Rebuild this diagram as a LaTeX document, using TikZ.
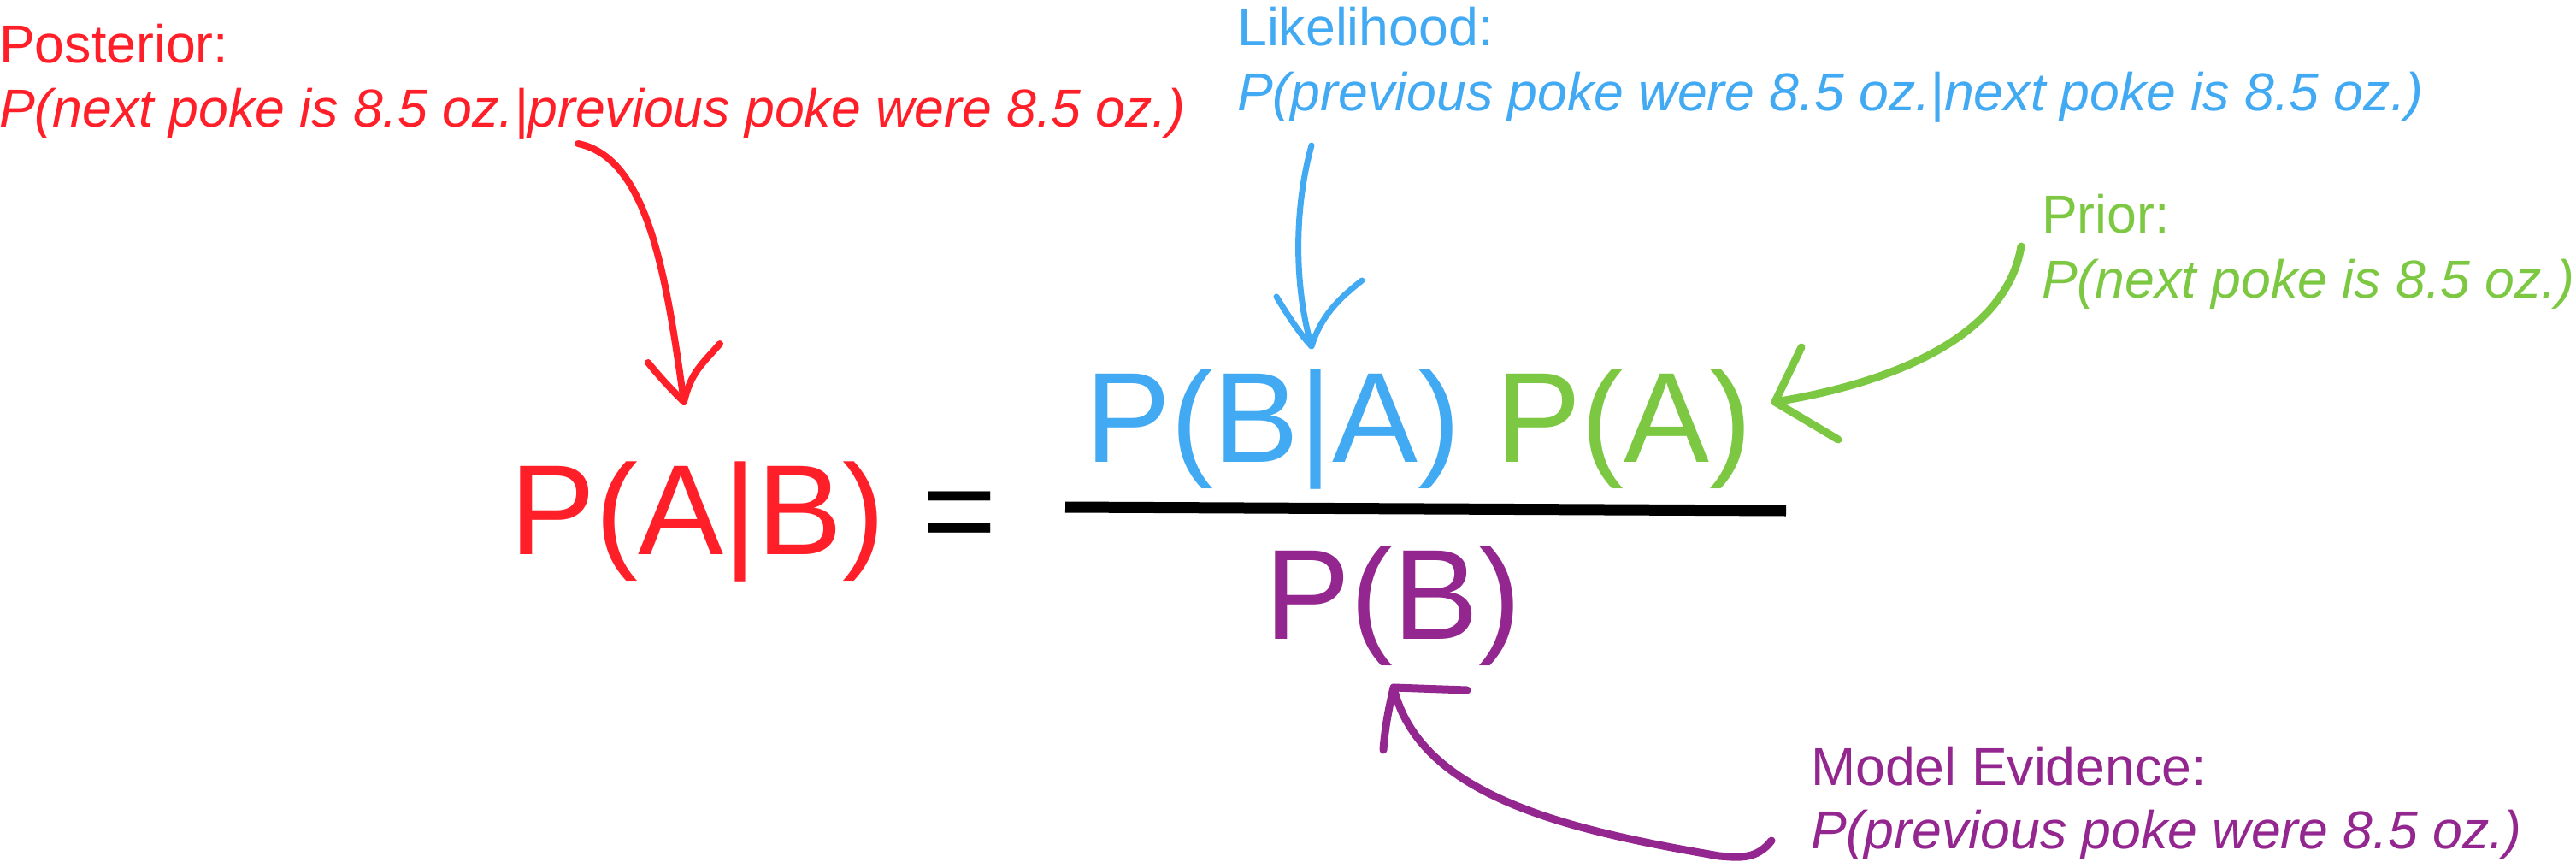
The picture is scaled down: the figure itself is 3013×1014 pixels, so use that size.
\documentclass[tikz,border=0pt]{standalone}
\usepackage{fontspec}
\setmainfont{Liberation Sans}
\definecolor{cred}{HTML}{FF1F29}
\definecolor{cblue}{HTML}{42A9F3}
\definecolor{cgreen}{HTML}{7DC843}
\definecolor{cpurple}{HTML}{93278F}
\tikzset{
  lab/.style={anchor=base west, inner sep=0pt, font=\fontsize{62.6bp}{62.6bp}\selectfont},
  labit/.style={lab, font=\fontsize{62.6bp}{62.6bp}\selectfont\itshape},
  big/.style={anchor=base west, inner sep=0pt, font=\fontsize{150bp}{150bp}\selectfont},
  hand/.style={line width=8bp, line cap=round, line join=round},
}
\begin{document}
\begin{tikzpicture}[x=1bp,y=-1bp]
\useasboundingbox (0,0) rectangle (3013,1014);
% labels
\node[lab, text=cred] (post) at (-1,73) {Posterior:};
\node[labit, text=cred] (postp) at (-1,148) {P(next poke is 8.5 oz.|previous poke were 8.5 oz.)};
\node[lab, text=cblue] (lik) at (1447,53) {Likelihood:};
\node[labit, text=cblue] (likp) at (1447,129) {P(previous poke were 8.5 oz.|next poke is 8.5 oz.)};
\node[lab, text=cgreen] (pri) at (2388,272) {Prior:};
\node[labit, text=cgreen] (prip) at (2388,348) {P(next poke is 8.5 oz.)};
\node[lab, text=cpurple] (ev) at (2118,918) {Model Evidence:};
\node[labit, text=cpurple] (evp) at (2118,992) {P(previous poke were 8.5 oz.)};
% formula
\node[big, text=cred] (lhs) at (596,648) {P(A|B)};
\node[big, text=black] (eq) at (1078,648) {=};
\node[big, text=cblue] (num1) at (1269,540) {P(B|A)};
\node[big, text=cgreen] (num2) at (1749,540) {P(A)};
\node[big, text=cpurple] (den) at (1479,747) {P(B)};
\coordinate (barL) at (1246,593);
\coordinate (barR) at (2089,597);
\draw[line width=13bp] (barL) -- (barR);
% red arrow
\coordinate (rs) at (676,168);
\coordinate (rt) at (800,470);
\draw[hand, cred] (rs) .. controls (760,185) and (780,330) .. (rt);
\draw[hand, cred] (758,424) .. controls (775,445) and (790,460) .. (rt)
                  .. controls (808,435) and (822,425) .. (842,402);
% blue arrow
\coordinate (bs) at (1534,170);
\coordinate (bt) at (1534,405);
\draw[hand, line width=7bp, cblue] (bs) .. controls (1512,250) and (1515,340) .. (bt);
\draw[hand, line width=7bp, cblue] (1493,347) .. controls (1510,375) and (1522,392) .. (bt)
                  .. controls (1545,370) and (1565,350) .. (1593,328);
% green arrow
\coordinate (gs) at (2364,288);
\coordinate (gt) at (2076,470);
\draw[hand, line width=9bp, cgreen] (gs) .. controls (2345,400) and (2200,450) .. (gt);
\draw[hand, line width=9bp, cgreen] (2107,406) -- (gt) -- (2150,514);
% purple arrow
\coordinate (ps) at (2072,983);
\coordinate (pt) at (1630,804);
\draw[hand, line width=9bp, cpurple] (ps) .. controls (2055,1005) and (2035,1003) .. (2011,1001)
      .. controls (1830,970) and (1660,930) .. (pt);
\draw[hand, line width=9bp, cpurple] (1716,807) -- (pt) .. controls (1624,830) and (1620,850) .. (1618,877);
\end{tikzpicture}
\end{document}
